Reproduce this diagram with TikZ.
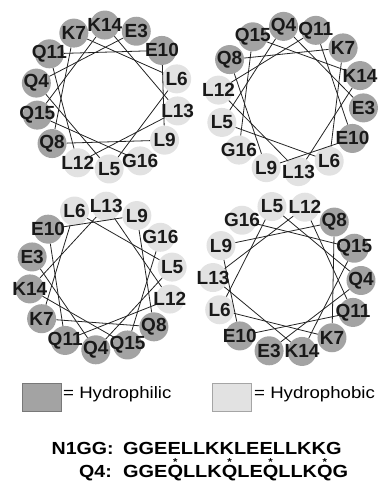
\documentclass[tikz,border=0pt]{standalone}
\usepackage{graphicx}
\usepackage{fontspec}
\setmainfont{Liberation Sans}
\definecolor{philc}{RGB}{163,163,163}
\definecolor{phobc}{RGB}{226,226,226}
\definecolor{philbox}{RGB}{120,120,120}
\definecolor{phobbox}{RGB}{165,165,165}
\definecolor{linec}{RGB}{35,35,35}
\tikzset{
  rescircle/.style={circle, minimum size=29pt, inner sep=0pt},
  reslab/.style={font=\fontsize{19}{19}\selectfont\bfseries, inner sep=0pt, text=black!90},
  helixline/.style={draw=linec, line width=0.8pt},
  legbox/.style={minimum width=39pt, minimum height=28pt, inner sep=0pt, anchor=north west, line width=0.8pt},
  legtext/.style={font=\fontsize{16.5}{16.5}\selectfont, inner sep=0pt, anchor=base west},
  seqtext/.style={font=\fontsize{17.5}{17.5}\selectfont\bfseries, inner sep=0pt},
}
\newcommand{\starQ}{\ooalign{Q\cr\hidewidth\raisebox{11.5pt}{\fontsize{10}{10}\selectfont *}\hidewidth\cr}}
\newcommand{\helixwheel}[5]{%
  \begin{scope}[shift={(#2pt,-#3pt)}]
    \foreach \k/\n/\col in {0/3/philc, 1/14/philc, 2/7/philc, 3/11/philc, 4/4/philc, 5/15/philc, 6/8/philc, 7/12/phobc, 8/5/phobc, 9/16/phobc, 10/9/phobc, 11/13/phobc, 12/6/phobc, 13/10/philc} {
      \pgfmathsetmacro{\ang}{#4+\k*360/14}
      \node[rescircle, fill=\col] (#1r\n) at (\ang:#5pt) {};
    }
    \foreach \a in {3,...,15} {
      \pgfmathtruncatemacro{\b}{\a+1}
      \draw[helixline] (#1r\a) -- (#1r\b);
    }
    \foreach \n/\lab in {3/E3, 4/Q4, 5/L5, 6/L6, 7/K7, 8/Q8, 9/L9, 10/E10, 11/Q11, 12/L12, 13/L13, 14/K14, 15/Q15, 16/G16} {
      \node[reslab] (#1l\n) at (#1r\n) {\lab};
    }
  \end{scope}
}
\begin{document}
\begin{tikzpicture}
\useasboundingbox (0,0) rectangle (380pt,-483pt);
\helixwheel{wa}{107}{97}{66}{72}
\helixwheel{wb}{291}{99}{-7}{73}
\helixwheel{wc}{101}{278}{163}{72}
\helixwheel{wd}{287}{279}{256}{74}
% legend
\node[legbox, draw=philbox, fill=philc] (boxphil) at (22pt,-383pt) {};
\node[legtext] (txtphil) at (63pt,-398.5pt) {\scalebox{1.13}[1]{= Hydrophilic}};
\node[legbox, draw=phobbox, fill=phobc] (boxphob) at (212pt,-383pt) {};
\node[legtext] (txtphob) at (254pt,-398.5pt) {\scalebox{1.13}[1]{= Hydrophobic}};
% sequences
\node[seqtext, anchor=base west] (lab1) at (51.5pt,-454pt) {\scalebox{1.12}[1]{N1GG:}};
\node[seqtext, anchor=base west] (seq1) at (123pt,-454pt) {\scalebox{1.14}[1]{GGEELLKKLEELLKKG}};
\node[seqtext, anchor=base east] (lab2) at (112pt,-477pt) {\scalebox{1.12}[1]{Q4:}};
\node[seqtext, anchor=base west] (seq2) at (123pt,-477pt) {\scalebox{1.14}[1]{GGE\starQ LLK\starQ LE\starQ LLK\starQ G}};
\end{tikzpicture}
\end{document}
